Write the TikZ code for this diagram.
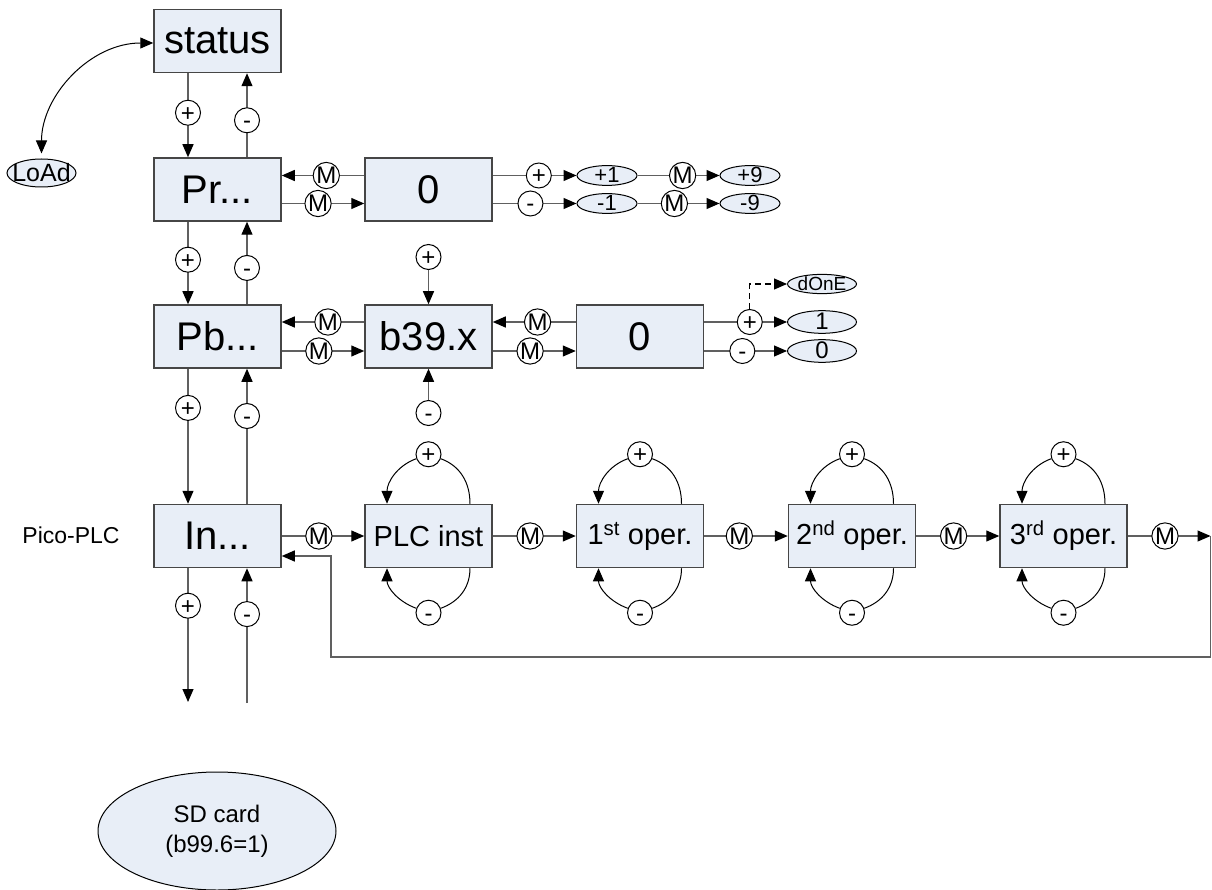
\documentclass[tikz,border=0pt]{standalone}
\usepackage{fontspec}
\setmainfont{Liberation Sans}
\usetikzlibrary{arrows.meta,shapes.geometric}
\definecolor{boxfill}{RGB}{232,238,247}
\definecolor{boxline}{RGB}{70,70,70}
\definecolor{linegray}{RGB}{96,96,96}
\tikzset{box/.style={draw=boxline,line width=1.5pt,fill=boxfill,minimum width=127pt,minimum height=63pt,inner sep=0pt,font=\fontsize{40}{44}\selectfont}}
\tikzset{sym/.style={draw=black,circle,fill=white,line width=1pt,minimum size=25pt,inner sep=0pt,text height=17pt,text depth=0pt,font=\fontsize{24}{24}\selectfont}}
\tikzset{oval/.style={draw=black,ellipse,fill=boxfill,line width=1pt,inner sep=0pt}}
\tikzset{val/.style={oval,minimum width=60pt,text height=14pt,text depth=0pt,font=\fontsize{22}{22}\selectfont}}
\tikzset{con/.style={draw=linegray,line width=1.2pt}}
\tikzset{arr/.style={con,->}}
\tikzset{arch/.style={draw=black,line width=1pt}}
\tikzset{>={Triangle[length=13pt,width=11pt,color=black]}}

\begin{document}
\begin{tikzpicture}[x=1pt,y=-1pt]
        \useasboundingbox (0,0) rectangle (1212,890);
        %Menu boxes
        \node[box] (status) at (217.5,41) {status};
        \node[box] (pr) at (217.5,189.5) {Pr...};
        \node[box] (pb) at (217.5,336.5) {Pb...};
        \node[box] (in) at (217.5,536) {In...};
        \node[box] (prv) at (428.5,189.5) {0};
        \node[box] (bit) at (428.5,336.5) {b39.x};
        \node[box] (bitv) at (640,336.5) {0};
        \node[box,font=\fontsize{29}{30}\selectfont] (inst) at (428.5,536) {PLC inst};
        \node[box,font=\fontsize{29}{30}\selectfont] (op1) at (640,536) {1\textsuperscript{st} oper.};
        \node[box,font=\fontsize{29}{30}\selectfont] (op2) at (852,536) {2\textsuperscript{nd} oper.};
        \node[box,font=\fontsize{29}{30}\selectfont] (op3) at (1063.5,536) {3\textsuperscript{rd} oper.};
        %Values
        \node[oval,minimum width=69pt,minimum height=28pt,inner xsep=-6pt,text height=17pt,text depth=0pt,font=\fontsize{25}{25}\selectfont] (load) at (41.5,173) {LoAd};
        \node[val] (p1) at (607,175.5) {+1};
        \node[val] (m1) at (607,203.5) {-1};
        \node[val] (p9) at (750,175.5) {+9};
        \node[val] (m9) at (750,203.5) {-9};
        \node[val,minimum width=69pt,text height=16pt,font=\fontsize{24}{24}\selectfont] (e1) at (822,322) {1};
        \node[val,minimum width=69pt,text height=16pt,font=\fontsize{24}{24}\selectfont] (e0) at (822,351) {0};
        \node[val,minimum width=69pt,inner xsep=-4pt,text height=13.6pt,font=\fontsize{19}{19}\selectfont] (done) at (822,284) {dOnE};
        \node[oval,minimum width=238pt,minimum height=118pt,align=center,font=\fontsize{24}{30}\selectfont] (sd) at (217,831) {SD card\\(b99.6=1)};
        \node[font=\fontsize{23}{24}\selectfont] (plc) at (71,535) {Pico-PLC};

        %Up and down
        \draw[arr] ([xshift=-29.5pt]status.south) -- node[sym,pos=.47]{+} ([xshift=-29.5pt]pr.north);
        \draw[arr] ([xshift=29.5pt]pr.north) -- node[sym,pos=.44]{-} ([xshift=29.5pt]status.south);
        \draw[arr] ([xshift=-29.5pt]pr.south) -- node[sym,pos=.46]{+} ([xshift=-29.5pt]pb.north);
        \draw[arr] ([xshift=29.5pt]pb.north) -- node[sym,pos=.44]{-} ([xshift=29.5pt]pr.south);
        \draw[arr] ([xshift=-29.5pt]pb.south) -- node[sym,pos=.29]{+} ([xshift=-29.5pt]in.north);
        \draw[arr] ([xshift=29.5pt]in.north) -- node[sym,pos=.65]{-} ([xshift=29.5pt]pb.south);
        \coordinate (inp) at (188,702);
        \coordinate (inm) at (247,703);
        \draw[arr] ([xshift=-29.5pt]in.south) -- node[sym,pos=.28]{+} (inp);
        \draw[arr] (inm) -- node[sym,pos=.66]{-} ([xshift=29.5pt]in.south);
        \draw[arch,<->,shorten >=5pt] ([yshift=-2pt]status.west) to[out=180,in=90] (load.north);

        %Pr row
        \draw[arr] ([yshift=14pt]prv.west) -- node[sym,pos=.46]{M} ([yshift=14pt]pr.east);
        \draw[arr] ([yshift=-14pt]pr.east) -- node[sym,pos=.44]{M} ([yshift=-14pt]prv.west);
        \draw[arr] ([yshift=14pt]prv.east) -- node[sym,pos=.55]{+} (p1.west);
        \draw[arr] ([yshift=-14pt]prv.east) -- node[sym,pos=.45]{-} (m1.west);
        \draw[arr] (p1) -- node[sym,pos=.55]{M} (p9);
        \draw[arr] (m1) -- node[sym,pos=.45]{M} (m9);

        %Pb row
        \draw[arr] ([yshift=14.5pt]bit.west) -- node[sym,pos=.44]{M} ([yshift=14.5pt]pb.east);
        \draw[arr] ([yshift=-14.5pt]pb.east) -- node[sym,pos=.45]{M} ([yshift=-14.5pt]bit.west);
        \draw[arr] ([yshift=14.5pt]bitv.west) -- node[sym,pos=.46]{M} ([yshift=14.5pt]bit.east);
        \draw[arr] ([yshift=-14.5pt]bit.east) -- node[sym,pos=.45]{M} ([yshift=-14.5pt]bitv.west);
        \node[sym] (bp) at (428.5,257) {+};
        \node[sym] (bm) at (428.5,413) {-};
        \draw[arr] (bp) -- (bit);
        \draw[arr] (bm) -- (bit);
        \draw[arr] ([yshift=14.5pt]bitv.east) -- node[sym,pos=.55](bvp){+} (e1.west);
        \draw[arr] ([yshift=-14.5pt]bitv.east) -- node[sym,pos=.46]{-} (e0.west);
        \draw[arr,draw=black,dash pattern=on 6pt off 4pt] (bvp.north) |- (done.west);

        %In row
        \draw[arr] (in) -- node[sym,pos=.45]{M} (inst);
        \draw[arr] (inst) -- node[sym,pos=.45]{M} (op1);
        \draw[arr] (op1) -- node[sym,pos=.42]{M} (op2);
        \draw[arr] (op2) -- node[sym,pos=.45]{M} (op3);
        \coordinate (ret) at (1210.5,536);
        \coordinate (back) at (331,657);
        \draw[arr] (op3) -- node[sym,pos=.45]{M} (ret);
        \draw[arr] (ret) |- (back) |- ([yshift=-20pt]in.east);
        \foreach \b in {inst,op1,op2,op3}{
            \node[sym] (\b-p) at ([yshift=49.5pt]\b.north) {+};
            \node[sym] (\b-m) at ([yshift=-44.5pt]\b.south) {-};
            \draw[arch] ([xshift=41.5pt]\b.north) to[out=90,in=-20] (\b-p);
            \draw[arch,->] (\b-p) to[out=200,in=90] ([xshift=-41.5pt]\b.north);
            \draw[arch] ([xshift=41.5pt]\b.south) to[out=-90,in=20] (\b-m);
            \draw[arch,->] (\b-m) to[out=160,in=-90] ([xshift=-41.5pt]\b.south);
        }
\end{tikzpicture}
\end{document}
